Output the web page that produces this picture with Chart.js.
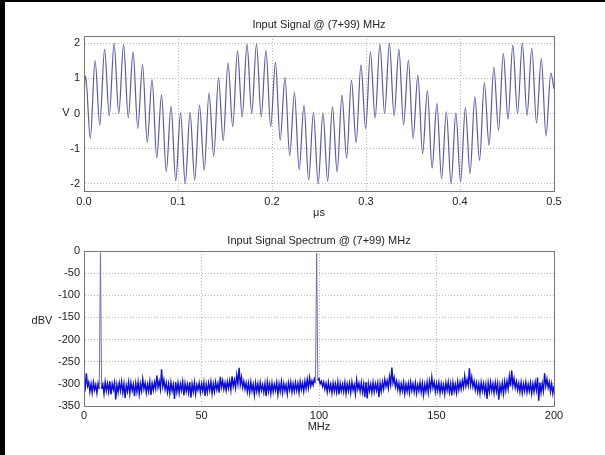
<!DOCTYPE html>
<html>
<head>
<meta charset="utf-8">
<script src="https://cdn.jsdelivr.net/npm/chart.js@4.4.1/dist/chart.umd.min.js"></script>
<style>
    html, body { margin: 0; padding: 0; background: #fff; }
    body { width: 605px; height: 455px; position: relative; overflow: hidden; }
    .box { position: absolute; left: 0; width: 605px; }
    #topBox { top: 0; height: 225px; }
    #botBox { top: 225px; height: 230px; }
    #edgeL { position: absolute; left: 0; top: 0; width: 5px; height: 455px; background: #000; }
    #edgeT { position: absolute; left: 0; top: 0; width: 605px; height: 2px; background: #000; }
</style>
</head>
<body>
<div class="box" id="topBox"><canvas id="signalChart"></canvas></div>
<div class="box" id="botBox"><canvas id="spectrumChart"></canvas></div>
<div id="edgeL"></div>
<div id="edgeT"></div>
<script>
// Jelalak: csúcsok és völgyek időpontjai (µs) és értékei (V)
const sigT = [0,
    0.0017, 0.0067, 0.0118, 0.0168, 0.0219, 0.0269, 0.0320, 0.0370, 0.0421, 0.0471,
    0.0522, 0.0572, 0.0623, 0.0673, 0.0724, 0.0774, 0.0825, 0.0875, 0.0926, 0.0976,
    0.1027, 0.1077, 0.1128, 0.1178, 0.1229, 0.1279, 0.1330, 0.1380, 0.1431, 0.1481,
    0.1532, 0.1582, 0.1633, 0.1683, 0.1734, 0.1784, 0.1835, 0.1885, 0.1936, 0.1986,
    0.2037, 0.2087, 0.2138, 0.2188, 0.2239, 0.2289, 0.2340, 0.2390, 0.2441, 0.2491,
    0.2542, 0.2592, 0.2643, 0.2693, 0.2744, 0.2794, 0.2845, 0.2895, 0.2946, 0.2996,
    0.3047, 0.3097, 0.3148, 0.3198, 0.3249, 0.3299, 0.3350, 0.3400, 0.3451, 0.3501,
    0.3552, 0.3602, 0.3653, 0.3703, 0.3754, 0.3804, 0.3855, 0.3905, 0.3956, 0.4006,
    0.4057, 0.4107, 0.4158, 0.4208, 0.4259, 0.4309, 0.4360, 0.4410, 0.4461, 0.4511,
    0.4562, 0.4612, 0.4663, 0.4713, 0.4764, 0.4814, 0.4865, 0.4915, 0.4966,
    0.5];
const sigV = [0.50,
    1.07, -0.71, 1.50, -0.33, 1.82, -0.07, 1.99, 0.00, 1.96, -0.12,
    1.75, -0.42, 1.39, -0.82, 0.96, -1.26, 0.53, -1.65, 0.20, -1.91,
    0.02, -2.00, 0.03, -1.89, 0.23, -1.61, 0.58, -1.21, 1.01, -0.77,
    1.44, -0.37, 1.78, -0.10, 1.97, 0.00, 1.98, -0.09, 1.79, -0.37,
    1.45, -0.76, 1.02, -1.20, 0.59, -1.60, 0.24, -1.89, 0.03, -2.00,
    0.02, -1.92, 0.19, -1.66, 0.52, -1.27, 0.95, -0.83, 1.38, -0.43,
    1.74, -0.13, 1.96, 0.00, 1.99, -0.07, 1.83, -0.32, 1.51, -0.70,
    1.09, -1.14, 0.65, -1.55, 0.28, -1.85, 0.05, -2.00, 0.01, -1.94,
    0.16, -1.71, 0.47, -1.33, 0.88, -0.90, 1.32, -0.48, 1.70, -0.16,
    1.94, -0.01, 2.00, -0.05, 1.86, -0.27, 1.56, -0.64, 1.15,
    0.70];

// Spektrum: 0.5 MHz-es lépésekben, 0..200 MHz (dBV)
const specStart = 0;
const specStep = 0.5;
const specDb = [
    -298, -310, -276, -305, -296, -318, -300, -320, -297, -314, -302, -321, -299, -312, -4, -311, -301, -322, -296, -316,
    -299, -318, -294, -324, -300, -313, -297, -335, -302, -319, -298, -316, -295, -320, -300, -332, -303, -317, -296, -322,
    -297, -315, -301, -328, -299, -318, -296, -323, -300, -316, -289, -312, -298, -320, -301, -317, -295, -325, -299, -314,
    -296, -311, -281, -308, -294, -312, -267, -306, -291, -313, -298, -319, -300, -322, -297, -316, -302, -334, -296, -318,
    -298, -321, -300, -315, -295, -326, -299, -317, -301, -320, -296, -331, -300, -318, -297, -323, -302, -314, -298, -319,
    -300, -316, -297, -327, -301, -319, -298, -315, -295, -322, -300, -318, -296, -313, -299, -320, -284, -308, -293, -312,
    -297, -315, -295, -310, -293, -314, -283, -306, -291, -309, -280, -300, -264, -302, -285, -308, -294, -312, -298, -318,
    -299, -320, -296, -316, -301, -325, -298, -317, -300, -321, -297, -315, -302, -319, -299, -328, -296, -317, -300, -322,
    -298, -318, -301, -315, -297, -324, -300, -317, -295, -320, -299, -316, -302, -323, -298, -314, -296, -319, -300, -317,
    -297, -315, -299, -320, -295, -313, -298, -317, -294, -311, -290, -309, -286, -305, -293, -303, -289, -298, -5, -292,
    -288, -300, -294, -306, -296, -312, -299, -318, -297, -315, -301, -321, -298, -317, -300, -319, -296, -324, -299, -316,
    -301, -318, -297, -322, -300, -316, -298, -320, -296, -314, -302, -323, -291, -312, -299, -317, -297, -319, -300, -330,
    -296, -333, -299, -316, -301, -320, -297, -318, -300, -315, -298, -330, -299, -317, -296, -312, -290, -306, -293, -310,
    -284, -302, -263, -298, -286, -307, -294, -313, -298, -319, -300, -316, -297, -322, -301, -317, -299, -320, -296, -315,
    -300, -318, -298, -321, -302, -316, -297, -319, -299, -325, -301, -317, -296, -320, -294, -312, -285, -309, -296, -318,
    -299, -316, -297, -321, -300, -317, -302, -323, -298, -315, -296, -319, -300, -326, -297, -317, -301, -320, -295, -314,
    -296, -312, -293, -308, -282, -305, -290, -304, -265, -302, -285, -307, -294, -314, -298, -318, -300, -322, -297, -316,
    -299, -320, -301, -334, -298, -318, -296, -316, -300, -321, -297, -317, -299, -336, -302, -319, -298, -322, -295, -315,
    -294, -312, -283, -306, -270, -304, -288, -309, -295, -314, -299, -318, -297, -321, -300, -316, -296, -319, -301, -317,
    -298, -322, -300, -318, -296, -314, -286, -338, -297, -320, -299, -316, -276, -305, -289, -309, -296, -318, -300, -322,
    -304
];

Chart.defaults.font.family = '"Liberation Sans", Arial, sans-serif';
Chart.defaults.font.size = 11;
Chart.defaults.color = '#222';

// Keret és vízszintes y-felirat (MATLAB stílus)
const framePlugin = {
    id: 'frame',
    afterDraw(chart, args, opts) {
        const ctx = chart.ctx;
        const a = chart.chartArea;
        ctx.save();
        ctx.strokeStyle = '#777';
        ctx.lineWidth = 1;
        ctx.strokeRect(Math.round(a.left) + 0.5, Math.round(a.top) + 0.5,
            Math.round(a.width), Math.round(a.height));
        ctx.font = '11px "Liberation Sans", Arial, sans-serif';
        ctx.fillStyle = '#222';
        ctx.textAlign = 'center';
        ctx.textBaseline = 'middle';
        ctx.fillText(opts.label, opts.x, opts.y);
        ctx.restore();
    }
};

function axisX(min, max, step, fmt, title, height, tickPad, titlePad) {
    return {
        type: 'linear', min: min, max: max,
        afterFit: s => { s.height = height; },
        ticks: { stepSize: step, padding: tickPad, maxRotation: 0, includeBounds: false, callback: fmt },
        grid: { color: '#b8b8b8', drawTicks: false },
        border: { color: '#777', dash: [1, 2] },
        title: { display: true, text: title, padding: { top: 0, bottom: titlePad } }
    };
}

function axisY(min, max, step) {
    return {
        min: min, max: max,
        afterFit: s => { s.width = 84; },
        ticks: { stepSize: step, padding: 4, includeBounds: false },
        grid: { color: '#b8b8b8', drawTicks: false },
        border: { color: '#777', dash: [1, 2] }
    };
}

// Időtartomány
new Chart(document.getElementById('signalChart'), {
    type: 'line',
    data: {
        datasets: [{
            data: sigT.map((t, i) => ({ x: t, y: sigV[i] })),
            borderColor: '#5a5aa6',
            borderWidth: 1.2,
            pointRadius: 0,
            cubicInterpolationMode: 'monotone'
        }]
    },
    options: {
        responsive: true,
        maintainAspectRatio: false,
        animation: false,
        layout: { padding: { left: 0, right: 51, top: 0, bottom: 0 } },
        plugins: {
            legend: { display: false },
            tooltip: { enabled: false },
            title: {
                display: true,
                fullSize: false,
                text: 'Input Signal @ (7+99) MHz',
                font: { size: 11, weight: 'normal' },
                padding: { top: 18.4, bottom: 4.4 }
            },
            frame: { label: 'V', x: 66, y: 113 }
        },
        scales: {
            x: axisX(0, 0.5, 0.1, v => v.toFixed(1), 'μs', 34, 4, 5.4),
            y: axisY(-2.2, 2.2, 1)
        }
    },
    plugins: [framePlugin]
});

// Spektrum
const specFreq = specDb.map((_, i) => specStart + i * specStep);
// a vivők (7 és 99 MHz) vékony, halványabb vonalak
const isCarrier = c => c.p0.parsed.y > -200 || c.p1.parsed.y > -200;

new Chart(document.getElementById('spectrumChart'), {
    type: 'line',
    data: {
        datasets: [{
            data: specFreq.map((f, i) => ({ x: f, y: specDb[i] })),
            borderColor: '#0c0cd4',
            borderWidth: 1.4,
            pointRadius: 0,
            tension: 0,
            segment: {
                borderColor: c => isCarrier(c) ? '#6c6cc4' : undefined,
                borderWidth: c => isCarrier(c) ? 1 : undefined
            }
        }]
    },
    options: {
        responsive: true,
        maintainAspectRatio: false,
        animation: false,
        layout: { padding: { left: 0, right: 51, top: 0, bottom: 0 } },
        plugins: {
            legend: { display: false },
            tooltip: { enabled: false },
            title: {
                display: true,
                fullSize: false,
                text: 'Input Signal Spectrum @ (7+99) MHz',
                font: { size: 11, weight: 'normal' },
                padding: { top: 9.5, bottom: 3.3 }
            },
            frame: { label: 'dBV', x: 42, y: 96 }
        },
        scales: {
            x: axisX(0, 200, 50, v => v, 'MHz', 49, 3, 21.4),
            y: axisY(-350, 0, 50)
        }
    },
    plugins: [framePlugin]
});
</script>
</body>
</html>
